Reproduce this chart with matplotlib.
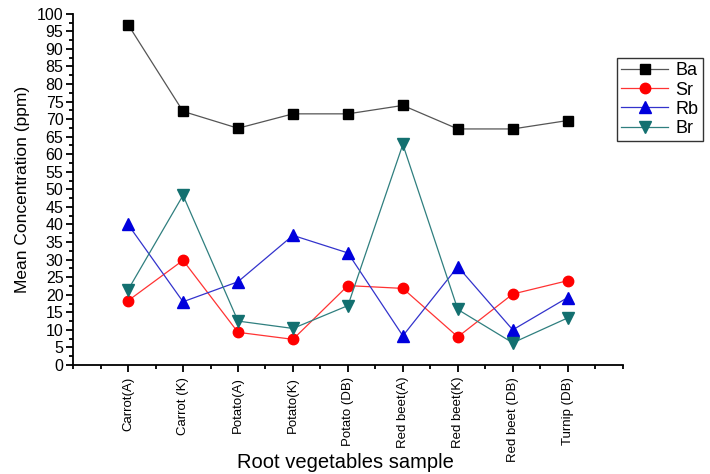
import numpy as np
import matplotlib.pyplot as plt
from matplotlib.ticker import MultipleLocator

plt.rcParams['font.family'] = ['Liberation Sans', 'DejaVu Sans']

samples = ['Carrot(A)', 'Carrot (K)', 'Potato(A)', 'Potato(K)', 'Potato (DB)',
           'Red beet(A)', 'Red beet(K)', 'Red beet (DB)', 'Turnip (DB)']
ba = [96.9, 72.2, 67.4, 71.5, 71.5, 73.9, 67.2, 67.2, 69.6]
sr = [18.3, 29.8, 9.3, 7.3, 22.6, 21.8, 8.0, 20.2, 24.0]
rb = [40.0, 18.0, 23.7, 36.9, 31.9, 8.3, 28.0, 10.0, 19.2]
br = [21.4, 48.3, 12.5, 10.4, 16.9, 62.8, 15.8, 6.3, 13.4]

x = np.arange(1, len(samples) + 1)

fig = plt.figure(figsize=(7.1, 4.74), dpi=100)
ax = fig.add_axes([0.103, 0.23, 0.774, 0.741])

ax.plot(x, ba, color='#555555', lw=0.9, marker='s', ms=7, mfc='black', mec='black', label='Ba')
ax.plot(x, sr, color='#ff3333', lw=0.9, marker='o', ms=7.5, mfc='red', mec='red', label='Sr')
ax.plot(x, rb, color='#3333cc', lw=0.9, marker='^', ms=8, mfc='#0000dd', mec='#0000dd', label='Rb')
ax.plot(x, br, color='#2f7f7f', lw=0.9, marker='v', ms=8, mfc='#137070', mec='#137070', label='Br')

ax.set_xlim(0, 10)
ax.set_ylim(0, 100)
ax.set_xticks(x)
ax.set_xticklabels(samples, rotation=90, fontsize=9.5)
ax.xaxis.set_minor_locator(MultipleLocator(0.5))
ax.yaxis.set_major_locator(MultipleLocator(5))
ax.yaxis.set_minor_locator(MultipleLocator(2.5))
ax.tick_params(axis='y', labelsize=11.5, width=1.3, length=5, pad=2)
ax.tick_params(axis='y', which='minor', width=1.3, length=3)
ax.tick_params(axis='x', width=1.3, length=5)
ax.tick_params(axis='x', which='minor', width=1.3, length=3)

ax.spines['top'].set_visible(False)
ax.spines['right'].set_visible(False)
ax.spines['left'].set_linewidth(1.3)
ax.spines['bottom'].set_linewidth(1.3)

ax.set_ylabel('Mean Concentration (ppm)', fontsize=12.5, labelpad=5)
fig.text(0.486, 0.025, 'Root vegetables sample', fontsize=14.5, ha='center', va='center')

leg = ax.legend(loc='upper right', bbox_to_anchor=(0.99, 0.878), bbox_transform=fig.transFigure,
                borderaxespad=0, fontsize=13, frameon=True, fancybox=False, edgecolor='black',
                handlelength=2.6, handletextpad=0.4, labelspacing=0.12, borderpad=0.25)
leg.get_frame().set_linewidth(1.0)

fig.savefig('out.png', dpi=100)
